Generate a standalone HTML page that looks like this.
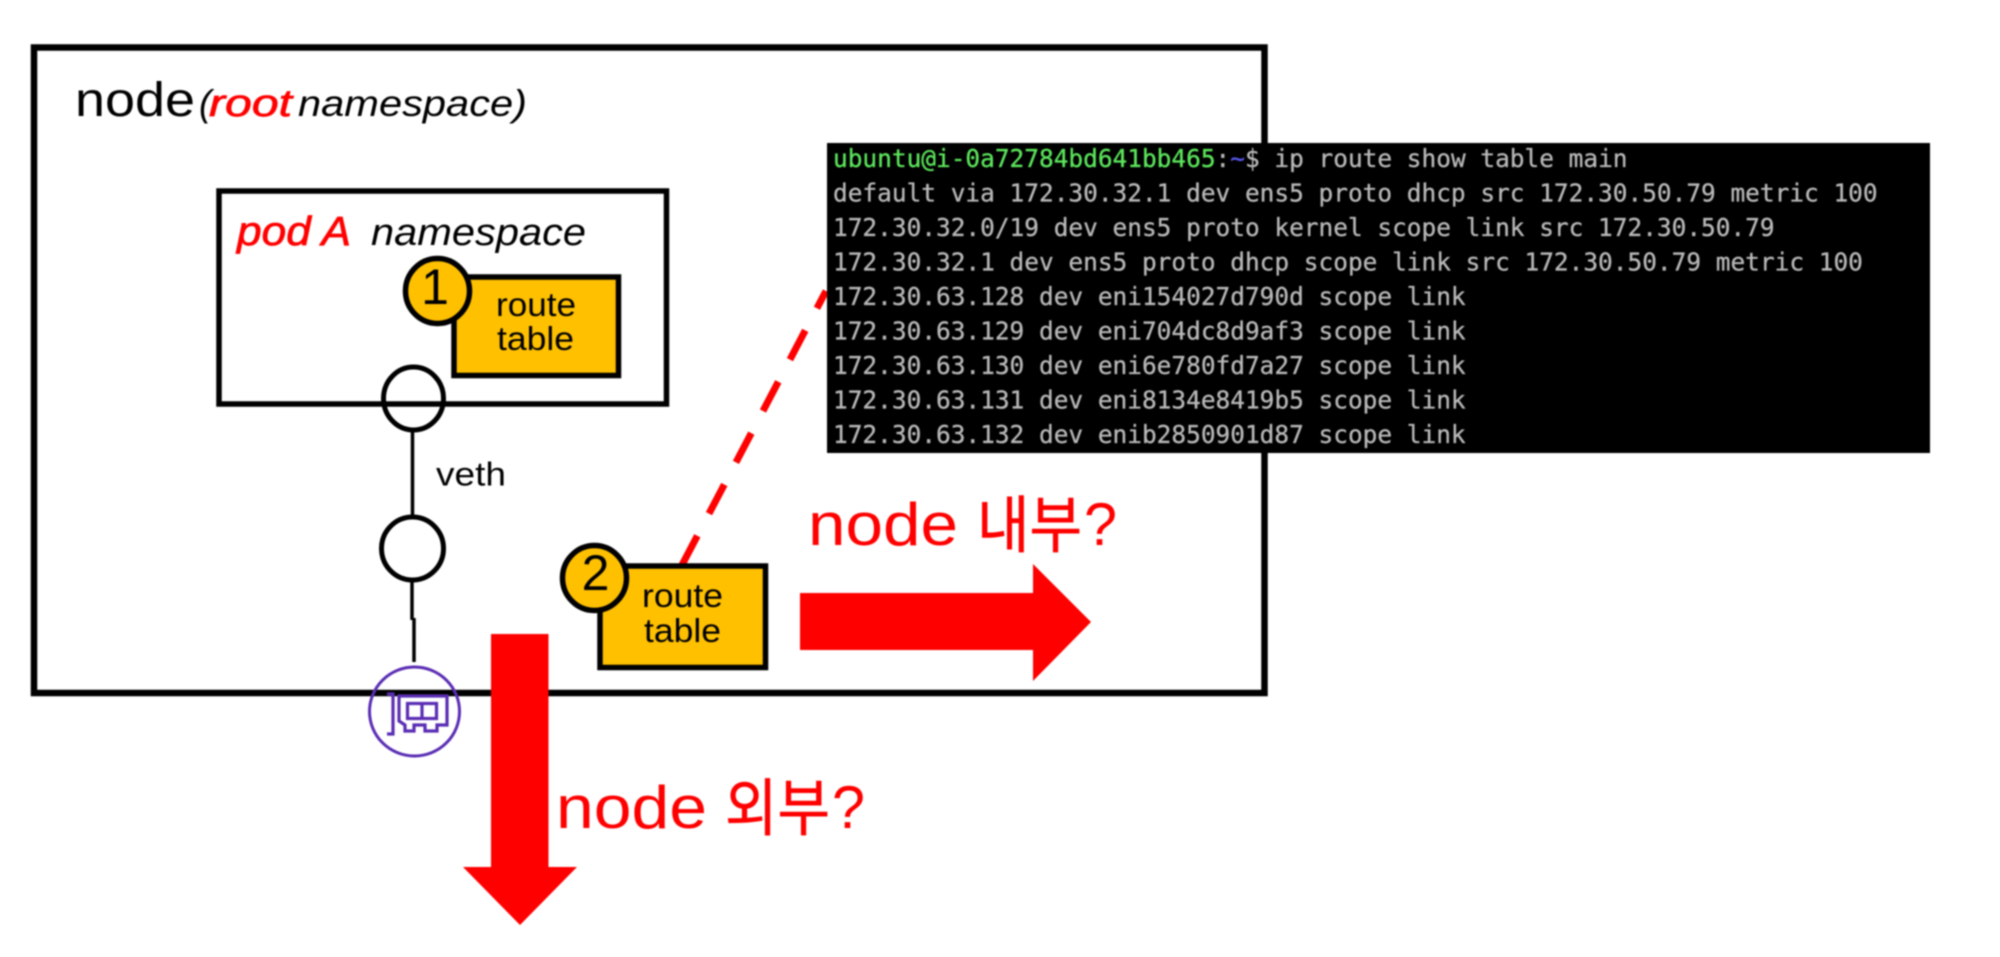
<!DOCTYPE html>
<html lang="ko">
<head>
<meta charset="utf-8">
<title>node route table</title>
<style>
html,body{margin:0;padding:0;background:#fff;width:2000px;height:957px;overflow:hidden}
svg{display:block;filter:blur(0.8px)}
.s{font-family:"Liberation Sans","Noto Sans CJK KR",sans-serif}
.k{font-family:"Noto Sans CJK KR","NanumGothic",sans-serif}
.m{font-family:"DejaVu Sans Mono","Liberation Mono",monospace;font-size:24.45px;fill:#b8b8b8;stroke:#b8b8b8;stroke-width:.3px}
</style>
</head>
<body>
<svg width="2000" height="957" viewBox="0 0 2000 957" xmlns="http://www.w3.org/2000/svg">
<rect x="0" y="0" width="2000" height="957" fill="#fff"/>
<!-- node box -->
<rect x="34" y="47.500" width="1230.500" height="645.500" fill="#fff" stroke="#000" stroke-width="6.500"/>
<text class="s" x="75" y="116" font-size="48" textLength="120" lengthAdjust="spacingAndGlyphs">node</text>
<text class="s" x="199" y="116" font-size="37" font-style="italic">(</text>
<text class="s" x="209" y="116" font-size="38" font-style="italic" fill="#f00" stroke="#f00" stroke-width=".7" textLength="83" lengthAdjust="spacingAndGlyphs">root</text>
<text class="s" x="298" y="116" font-size="37" font-style="italic" textLength="229" lengthAdjust="spacingAndGlyphs">namespace)</text>
<!-- pod box -->
<rect x="219" y="191" width="447.500" height="213" fill="#fff" stroke="#000" stroke-width="5.500"/>
<text class="s" x="237" y="245" font-size="41" font-style="italic" fill="#f00" stroke="#f00" stroke-width=".7" textLength="114" lengthAdjust="spacingAndGlyphs">pod A</text>
<text class="s" x="371" y="245" font-size="38" font-style="italic" textLength="215" lengthAdjust="spacingAndGlyphs">namespace</text>
<!-- route table 1 -->
<rect x="454" y="277" width="164.500" height="98.500" fill="#ffc000" stroke="#000" stroke-width="5.500"/>
<ellipse cx="437.500" cy="291" rx="32" ry="32.500" fill="#ffc000" stroke="#000" stroke-width="5.500"/>
<text class="s" x="435" y="304" font-size="50" text-anchor="middle">1</text>
<text class="s" x="496" y="316" font-size="33" textLength="80" lengthAdjust="spacingAndGlyphs">route</text>
<text class="s" x="497" y="350" font-size="33" textLength="77" lengthAdjust="spacingAndGlyphs">table</text>
<!-- veth -->
<ellipse cx="413.500" cy="398.500" rx="30" ry="31.500" fill="none" stroke="#000" stroke-width="5"/>
<line x1="412.500" y1="431" x2="412.500" y2="516" stroke="#000" stroke-width="3.500"/>
<text class="s" x="436" y="485.500" font-size="33" textLength="70" lengthAdjust="spacingAndGlyphs">veth</text>
<ellipse cx="412.500" cy="548.500" rx="31" ry="31.500" fill="#fff" stroke="#000" stroke-width="5"/>
<path d="M412 581V620" stroke="#000" stroke-width="3.500" fill="none"/>
<path d="M414 618V662" stroke="#000" stroke-width="3.500" fill="none"/>
<!-- NIC -->
<ellipse cx="414.500" cy="711.500" rx="45" ry="44.500" fill="none" stroke="#5a2db4" stroke-width="3"/>
<g fill="none" stroke="#5a2db4" stroke-width="3.200">
<path d="M387 694H393V734H387"/>
<path d="M399 696H447V725H437V731H425V725H414V731H405V725L399 721Z"/>
<rect x="407.500" y="703.500" width="29" height="15"/>
<line x1="422" y1="703" x2="422" y2="719"/>
</g>
<!-- red dashed line -->
<line x1="682" y1="565" x2="826" y2="291" stroke="#f00" stroke-width="7" stroke-dasharray="33 25"/>
<!-- route table 2 -->
<rect x="600" y="566" width="165.500" height="101.500" fill="#ffc000" stroke="#000" stroke-width="5.500"/>
<ellipse cx="594.500" cy="578" rx="32" ry="32.500" fill="#ffc000" stroke="#000" stroke-width="5.500"/>
<text class="s" x="595.500" y="590" font-size="50" text-anchor="middle">2</text>
<text class="s" x="642" y="607" font-size="33" textLength="81" lengthAdjust="spacingAndGlyphs">route</text>
<text class="s" x="644" y="642" font-size="33" textLength="77" lengthAdjust="spacingAndGlyphs">table</text>
<!-- arrows -->
<polygon points="800,593 1033,593 1033,564 1091,622 1033,681 1033,650 800,650" fill="#f00"/>
<polygon points="491,634 548.500,634 548.500,867 577,867 520,925 463,867 491,867" fill="#f00"/>
<!-- red labels -->
<text class="s" x="808" y="545" font-size="60" fill="#f00" textLength="150" lengthAdjust="spacingAndGlyphs">node</text>
<text class="k" x="977" y="547" font-size="62" fill="#f00" stroke="#f00" stroke-width=".6" textLength="105" lengthAdjust="spacingAndGlyphs">내부</text>
<text class="s" x="1084" y="545" font-size="60" fill="#f00" textLength="33" lengthAdjust="spacingAndGlyphs">?</text>
<text class="s" x="556" y="828" font-size="60" fill="#f00" textLength="151" lengthAdjust="spacingAndGlyphs">node</text>
<text class="k" x="725" y="830" font-size="62" fill="#f00" stroke="#f00" stroke-width=".6" textLength="105" lengthAdjust="spacingAndGlyphs">외부</text>
<text class="s" x="832" y="828" font-size="60" fill="#f00" textLength="33" lengthAdjust="spacingAndGlyphs">?</text>
<!-- terminal -->
<rect x="827" y="143" width="1103" height="310" fill="#000"/>
<text class="m" x="833" y="167"><tspan fill="#5ce65c" stroke="#5ce65c">ubuntu@i-0a72784bd641bb465</tspan><tspan>:</tspan><tspan fill="#5a5af0" stroke="#5a5af0">~</tspan><tspan>$ ip route show table main</tspan></text>
<text class="m" x="833" y="201.500">default via 172.30.32.1 dev ens5 proto dhcp src 172.30.50.79 metric 100</text>
<text class="m" x="833" y="236">172.30.32.0/19 dev ens5 proto kernel scope link src 172.30.50.79</text>
<text class="m" x="833" y="270.500">172.30.32.1 dev ens5 proto dhcp scope link src 172.30.50.79 metric 100</text>
<text class="m" x="833" y="305">172.30.63.128 dev eni154027d790d scope link</text>
<text class="m" x="833" y="339.500">172.30.63.129 dev eni704dc8d9af3 scope link</text>
<text class="m" x="833" y="374">172.30.63.130 dev eni6e780fd7a27 scope link</text>
<text class="m" x="833" y="408.500">172.30.63.131 dev eni8134e8419b5 scope link</text>
<text class="m" x="833" y="443">172.30.63.132 dev enib2850901d87 scope link</text>
</svg>
</body>
</html>
